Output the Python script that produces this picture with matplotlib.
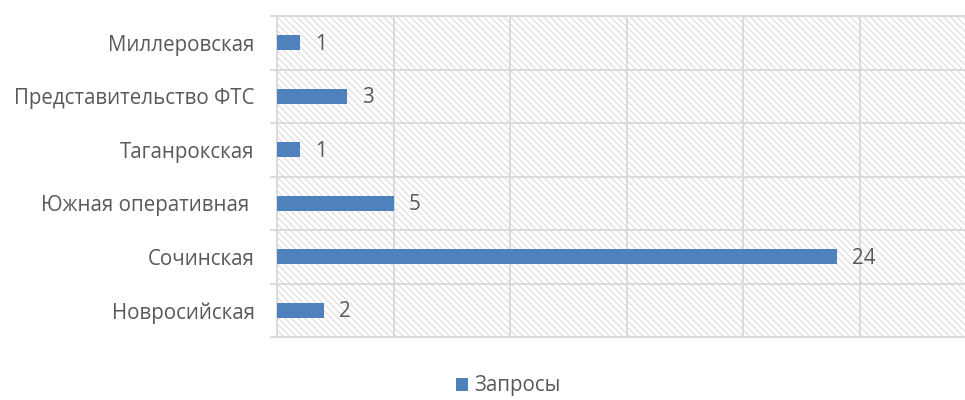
import matplotlib.pyplot as plt

categories = ["Миллеровская", "Представительство ФТС", "Таганрокская",
              "Южная оперативная ", "Сочинская", "Новросийская"]
values = [1, 3, 1, 5, 24, 2]
series_name = "Запросы"

bar_color = "#4F81BD"
grid_color = "#D9D9D9"
text_color = "#595959"

plt.rcParams['font.family'] = ['Open Sans', 'DejaVu Sans']
plt.rcParams['hatch.linewidth'] = 0.8
plt.rcParams['hatch.color'] = "#DCDCDC"

fig = plt.figure(figsize=(9.65, 4.0), dpi=100)
ax = fig.add_axes([277 / 965, 1 - 337 / 400, 1 - 277 / 965, (337 - 16) / 400])

ax.patch.set_facecolor("white")
ax.patch.set_hatch("\\" * 5)
ax.patch.set_edgecolor("#DCDCDC")

pos = list(range(len(categories)))
bars = ax.barh(pos, values, height=0.28, color=bar_color, label=series_name,
               zorder=3)

for b, v in zip(bars, values):
    ax.annotate(str(v), (b.get_width(), b.get_y() + b.get_height() / 2),
                xytext=(11, -1), textcoords="offset points", va="center",
                ha="left", fontsize=14.8, color=text_color, zorder=4)

ax.set_xlim(0, 29.5)
ax.set_ylim(len(categories) - 0.5, -0.5)
ax.set_xticks(range(0, 30, 5))
ax.set_xticklabels([])
ax.tick_params(axis="x", length=0)
ax.grid(axis="x", color=grid_color, linewidth=1.3, zorder=1)

ax.set_yticks(pos)
ax.set_yticklabels(categories, fontsize=14.8, color=text_color)
ax.set_yticks([p - 0.5 for p in pos] + [len(categories) - 0.5], minor=True)
ax.tick_params(axis="y", which="major", length=0, pad=16)
ax.tick_params(axis="y", which="minor", length=5, width=1.3, color=grid_color)
ax.grid(axis="y", which="minor", color=grid_color, linewidth=1.3, zorder=1)

for s in ["top", "bottom", "left"]:
    ax.spines[s].set_color(grid_color)
    ax.spines[s].set_linewidth(1.3)
ax.spines["right"].set_visible(False)

fig.legend(handles=[bars], labels=[series_name], loc="center",
           bbox_to_anchor=(0.527, 0.035), frameon=False, fontsize=14.8,
           handlelength=0.6, handleheight=0.6, handletextpad=0.3,
           labelcolor=text_color)

fig.savefig("out.png", dpi=100)
